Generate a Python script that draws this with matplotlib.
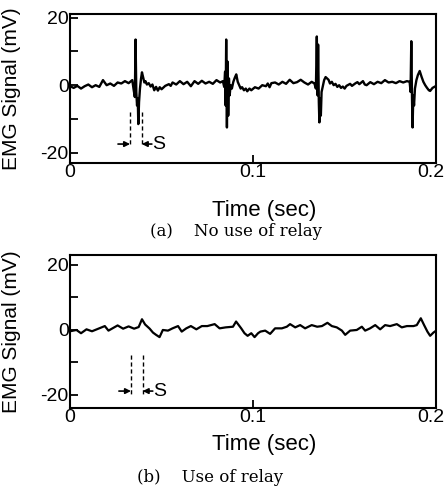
import numpy as np
import matplotlib
matplotlib.use('Agg')
import matplotlib.pyplot as plt
from matplotlib.transforms import ScaledTranslation

plt.rcParams['font.family'] = ['Liberation Sans', 'DejaVu Sans']
plt.rcParams['axes.linewidth'] = 1.5

# ---- panel (a): no relay, EMG trace with stimulation artefacts ----
t_a = [0.000, 0.002, 0.004, 0.006, 0.008, 0.010, 0.012, 0.014, 0.016, 0.018,
       0.020, 0.022, 0.024, 0.026, 0.028, 0.030, 0.032, 0.034,
       0.0348, 0.0354, 0.0358, 0.0362, 0.0366, 0.0370, 0.0373, 0.0377, 0.0382,
       0.0388, 0.0393, 0.0400, 0.0406, 0.0412, 0.0420, 0.0430, 0.0440, 0.0450,
       0.0460, 0.0470, 0.0480, 0.0490, 0.0500, 0.0520, 0.0540, 0.0550, 0.0560,
       0.0580, 0.0600, 0.0620, 0.0640, 0.0660, 0.0680, 0.0700, 0.0720, 0.0740,
       0.0760, 0.0780, 0.0800, 0.0820, 0.0835,
       0.0842, 0.0847, 0.0850, 0.0853, 0.0857, 0.0860, 0.0864, 0.0868, 0.0872,
       0.0877, 0.0884, 0.0892, 0.0900, 0.0908, 0.0916, 0.0924, 0.0932, 0.0940,
       0.0950, 0.0960, 0.0968, 0.0980, 0.0990, 0.1010, 0.1030, 0.1050, 0.1070,
       0.1080, 0.1090, 0.1100, 0.1120, 0.1140, 0.1160, 0.1180, 0.1200, 0.1220,
       0.1240, 0.1260, 0.1280, 0.1300, 0.1320, 0.1335,
       0.1343, 0.1348, 0.1352, 0.1355, 0.1359, 0.1362, 0.1366, 0.1370, 0.1374,
       0.1380, 0.1388, 0.1396, 0.1404, 0.1412, 0.1420, 0.1430, 0.1440, 0.1450,
       0.1460, 0.1470, 0.1480, 0.1490, 0.1500, 0.1510, 0.1530, 0.1540, 0.1560,
       0.1570, 0.1580, 0.1600, 0.1610, 0.1620, 0.1640, 0.1660, 0.1680, 0.1700,
       0.1720, 0.1740, 0.1760, 0.1780, 0.1800, 0.1820, 0.1840, 0.1855,
       0.1860, 0.1864, 0.1868, 0.1871, 0.1875, 0.1879, 0.1884, 0.1892, 0.1900,
       0.1910, 0.1920, 0.1930, 0.1940, 0.1950, 0.1960, 0.1967, 0.1980, 0.2000]
emg_a = [-0.3, -0.8, -0.2, -1.0, -0.3, 0.2, -0.6, 0.0, -0.5, 1.5,
         0.0, 0.5, -0.2, 0.8, 0.5, 1.2, 0.6, 1.5,
         -1.5, -3.5, 13.5, -2.0, -6.0, -4.0, -11.5, -5.0, -1.0,
         2.0, 3.8, 2.2, 0.8, 1.2, 0.2, 0.6, -0.4, 0.2,
         -1.5, -0.5, -1.6, -0.6, -1.2, -0.2, 0.3, -0.2, 0.8,
         0.2, 1.2, 0.3, 1.0, -0.3, 1.2, 0.4, 1.3, 0.5,
         1.0, 0.4, 1.5, 0.8, 1.2,
         -0.5, 4.0, -6.0, 13.5, -12.5, 7.0, -9.0, 2.0, -3.0,
         0.0, -1.0, 1.0, 2.2, 3.2, 1.0, 0.0, -1.0, -0.6,
         -1.5, -1.0, -1.8, -1.0, -1.5, -0.6, -1.0, 0.0, -0.3,
         0.5, -0.6, 0.6, 0.8, 0.2, 1.0, 0.4, 1.6, 0.6,
         0.9, 1.6, 0.8, 0.2, 1.0, 0.5,
         -1.0, 14.4, -3.0, 12.0, -5.0, -11.0, -4.0, -9.0, -2.0,
         -0.5, 1.5, 2.4, 2.0, 1.6, 0.5, 1.0, 0.0, 0.4,
         -0.5, 0.0, -0.8, -0.4, -1.0, -0.2, 0.4, -0.2, 0.6,
         0.9, 0.3, 1.2, 0.2, 0.0, 0.9, 0.3, 1.0, 0.6,
         1.5, 0.8, 1.0, 0.6, 1.2, 0.8, 1.2, 1.0,
         -2.0, 13.0, -4.0, -12.5, -3.0, -6.0, -1.0, 1.5, 3.0,
         4.2, 2.5, 1.0, 0.0, -0.8, -1.5, -1.7, -0.8, -0.2]

# ---- panel (b): with relay, artefacts removed ----
t_b = [0.000, 0.0035, 0.006, 0.009, 0.012, 0.0155, 0.019, 0.021, 0.0235, 0.026,
       0.029, 0.032, 0.035, 0.0375, 0.0393, 0.041, 0.0435, 0.0453, 0.047, 0.0489,
       0.0507, 0.0535, 0.056, 0.059, 0.061, 0.0635, 0.066, 0.069, 0.072, 0.075,
       0.079, 0.0817, 0.085, 0.089, 0.0907, 0.0935, 0.0953, 0.097, 0.099, 0.1008,
       0.1027, 0.104, 0.1066, 0.1093, 0.112, 0.1157, 0.1184, 0.1202, 0.123, 0.1257,
       0.1284, 0.132, 0.135, 0.1376, 0.1406, 0.143, 0.1457, 0.1485, 0.1503, 0.153,
       0.1566, 0.1594, 0.1612, 0.1639, 0.1667, 0.1694, 0.1721, 0.1748, 0.1785, 0.1812,
       0.184, 0.1876, 0.1894, 0.1916, 0.1934, 0.1952, 0.1967, 0.1985, 0.2000]
emg_b = [-0.4, 0.0, -1.0, 0.2, -0.4, 0.4, 1.2, -0.2, 0.6, 1.4,
         0.4, 1.1, 0.4, 0.9, 3.3, 1.7, 0.4, -0.8, -1.5, -2.2,
         0.0, -0.2, 0.5, 1.2, -0.5, 0.5, 1.2, 0.2, 1.2, 1.2,
         1.8, 0.5, 0.8, 1.0, 2.6, 0.5, -1.0, -1.8, -1.0, -2.2,
         -1.0, -0.5, -0.2, -1.2, 0.5, 0.5, 1.0, 1.8, 0.8, 1.5,
         0.5, 1.5, 1.0, 1.2, 2.2, 1.2, 0.8, -0.2, -1.5, -0.2,
         0.0, 1.0, -0.2, 0.5, 1.5, 0.2, 1.5, 1.2, 1.8, 0.8,
         1.2, 1.2, 1.5, 3.6, 1.5, -0.5, -1.8, -0.8, -0.2]

# dead-time marker "S" (dashed lines, arrows) for each panel
s_lines_a = [0.0328, 0.0392]
s_lines_b = [0.0333, 0.0397]

fig = plt.figure(figsize=(4.46, 4.88), dpi=100)
ax_a = fig.add_axes([0.157, 0.666, 0.821, 0.305])
ax_b = fig.add_axes([0.157, 0.164, 0.821, 0.313])


def style_axes(ax, ylim, xlabel_y):
    ax.set_xlim(0, 0.2)
    ax.set_ylim(*ylim)
    ax.set_xticks([0, 0.1, 0.2])
    ax.set_xticklabels(['0', '0.1', '0.2'])
    ax.set_yticks([-20, -10, 0, 10, 20])
    ax.set_yticklabels(['-20', '', '0', '', '20'])
    ax.tick_params(direction='in', length=6, width=1.3, labelsize=14, pad=1)
    # last x label sits slightly left so it stays inside the figure
    last = ax.get_xticklabels()[-1]
    last.set_transform(last.get_transform() + ScaledTranslation(-5 / 100, 0, fig.dpi_scale_trans))
    ax.set_ylabel('EMG Signal (mV)', fontsize=15)
    ax.yaxis.set_label_coords(-0.135, 0.5)
    ax.set_xlabel('Time (sec)', fontsize=16)
    ax.xaxis.set_label_coords(0.53, xlabel_y)


def s_marker(ax, xs, y0, y1, ya):
    for x in xs:
        ax.plot([x, x], [y0, y1], color='black', lw=1.0, ls=(0, (3, 2)))
    ax.annotate('', xy=(xs[0], ya), xytext=(xs[0] - 0.0066, ya),
                arrowprops=dict(arrowstyle='-|>', color='black', lw=1.2,
                                mutation_scale=8, shrinkA=0, shrinkB=0))
    ax.annotate('', xy=(xs[1], ya), xytext=(xs[1] + 0.0055, ya),
                arrowprops=dict(arrowstyle='-|>', color='black', lw=1.2,
                                mutation_scale=8, shrinkA=0, shrinkB=0))
    ax.text(xs[1] + 0.0058, ya, 'S', fontsize=14, va='center', ha='left')


ax_a.plot(t_a, emg_a, color='black', lw=1.7)
style_axes(ax_a, (-23, 21), -0.25)
s_marker(ax_a, s_lines_a, -7.9, -17.9, -17.4)

ax_b.plot(t_b, emg_b, color='black', lw=1.6)
style_axes(ax_b, (-24, 23), -0.17)
s_marker(ax_b, s_lines_b, -7.7, -20.0, -18.8)

cap = dict(family='DejaVu Serif', fontsize=12, ha='center', va='center')
fig.text(0.53, 1 - 231 / 488, '(a)    No use of relay', **cap)
fig.text(0.47, 1 - 477 / 488, '(b)    Use of relay', **cap)

fig.savefig('out.png', dpi=100)
